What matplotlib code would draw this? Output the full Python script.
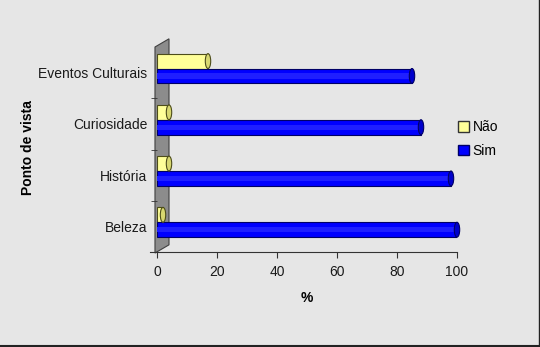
import matplotlib.pyplot as plt
from matplotlib.patches import Ellipse, Polygon
from matplotlib.lines import Line2D

plt.rcParams['font.family'] = ['Liberation Sans', 'DejaVu Sans']

# data
categories = ['Beleza', 'História', 'Curiosidade', 'Eventos Culturais']
nao = [2, 4, 4, 17]
sim = [100, 98, 88, 85]

fig = plt.figure(figsize=(5.4, 3.47), dpi=100, facecolor='#e6e6e6')
ax = fig.add_axes([157 / 540, 1 - 252 / 347, 300 / 540, 205 / 347])
ax.set_facecolor('none')
ax.set_xlim(0, 100)
ax.set_ylim(-0.5, 3.5)

# gray side wall (fake 3D look)
wall = Polygon([(-0.67, -0.52), (-0.67, 3.5), (4, 3.66), (4, -0.36)],
               closed=True, facecolor='#8c8c8c', edgecolor='#404040',
               lw=0.8, clip_on=False, zorder=1)
ax.add_patch(wall)

h = 0.29
shift = 0.08
ypos = list(range(len(categories)))
y_nao = [y + shift + h / 2 for y in ypos]
y_sim = [y + shift - h / 2 for y in ypos]

ax.barh(y_nao, nao, height=h, color='#ffff99', edgecolor='#4d4d1a',
        lw=0.8, zorder=3)
ax.barh(y_sim, sim, height=h, color='#0000ff', edgecolor='#000066',
        lw=0.8, zorder=3)
# faint stripe for cylinder shading
ax.barh(y_sim, sim, height=h * 0.35, color='#1f1fff', lw=0, zorder=3)

# cylinder end caps
for y, v in zip(y_nao, nao):
    ax.add_patch(Ellipse((v, y), 1.8, h, facecolor='#d8d870',
                         edgecolor='#4d4d1a', lw=0.8, zorder=4))
for y, v in zip(y_sim, sim):
    ax.add_patch(Ellipse((v, y), 1.8, h, facecolor='#0000cc',
                         edgecolor='#000066', lw=0.8, zorder=4, clip_on=False))

# axes styling
for s in ['top', 'right', 'left']:
    ax.spines[s].set_visible(False)
ax.spines['bottom'].set_color('#333333')
ax.spines['bottom'].set_bounds(-2.3, 100)

ax.set_xticks([0, 20, 40, 60, 80, 100])
ax.tick_params(axis='x', direction='out', length=4, color='#333333',
               labelsize=10, labelcolor='#1a1a1a', pad=5)

ax.set_yticks(ypos)
ax.set_yticklabels(categories)
ax.set_yticks([-0.5, 0.5, 1.5, 2.5], minor=True)
ax.tick_params(axis='y', which='major', length=0, labelsize=10,
               labelcolor='#1a1a1a', pad=7)
ax.tick_params(axis='y', which='minor', length=4, color='#333333',
               direction='out', pad=0)

ax.set_xlabel('%', fontsize=10, fontweight='bold', labelpad=9)
fig.text(28 / 540, 1 - 148 / 347, 'Ponto de vista', rotation=90,
         fontsize=10, fontweight='bold', ha='center', va='center')

# legend
handles = [plt.Rectangle((0, 0), 1, 1, facecolor='#ffff99', edgecolor='#333333'),
           plt.Rectangle((0, 0), 1, 1, facecolor='#0000ff', edgecolor='#000066')]
fig.legend(handles, ['Não', 'Sim'], loc='center left',
           bbox_to_anchor=(445 / 540, 1 - 139 / 347), frameon=False,
           fontsize=10, handlelength=0.8, handleheight=0.8,
           handletextpad=0.3, labelspacing=0.7)

# dark frame edge at bottom and right
fig.add_artist(Line2D([0, 1], [0.004, 0.004], color='#222222', lw=1.5,
                      transform=fig.transFigure))
fig.add_artist(Line2D([0.998, 0.998], [0, 1], color='#222222', lw=1.0,
                      transform=fig.transFigure))

fig.savefig('out.png', dpi=100, facecolor=fig.get_facecolor())
